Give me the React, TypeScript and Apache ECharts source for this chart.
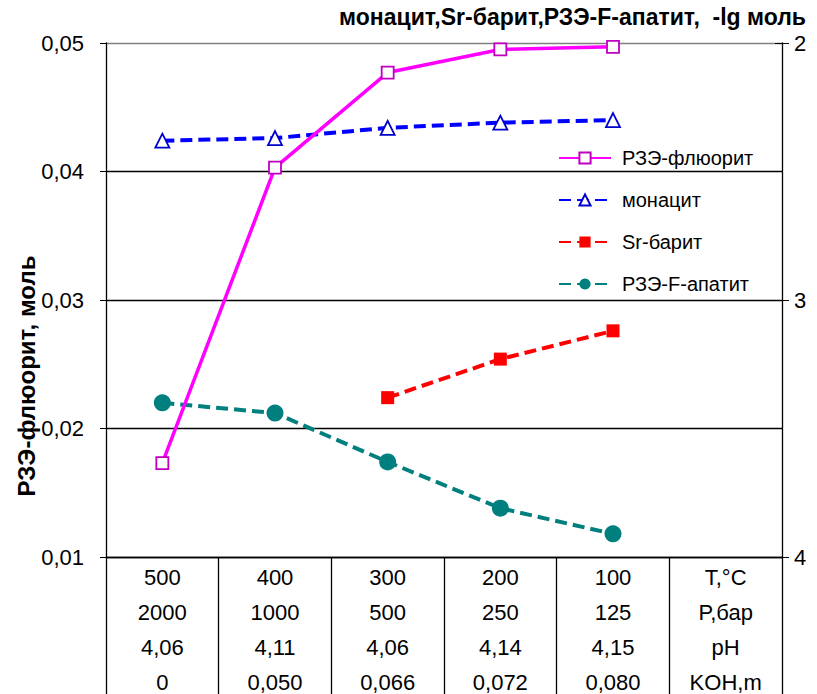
import React, { useEffect, useRef } from "react";
import * as echarts from "echarts";

// Conditions table under the plot (one column per step, last column holds row names)
const temperatures = ["500", "400", "300", "200", "100"];
const pressures = ["2000", "1000", "500", "250", "125"];
const phValues = ["4,06", "4,11", "4,06", "4,14", "4,15"];
const kohValues = ["0", "0,050", "0,066", "0,072", "0,080"];
const rowNames = ["T,°C", "P,бар", "pH", "KOH,m"];

// Left axis: REE-fluorite, mol
const fluorite = [0.0173, 0.0403, 0.0477, 0.0495, 0.0497];
// Right axis: -lg mol
const monazite = [2.38, 2.37, 2.33, 2.31, 2.3];
const srBarite = [null, null, 3.38, 3.23, 3.12];
const fApatite = [3.4, 3.44, 3.63, 3.81, 3.91];

const seriesNames = ["РЗЭ-флюорит", "монацит", "Sr-барит", "РЗЭ-F-апатит"];
const leftAxisName = "РЗЭ-флюорит, моль";
const rightAxisName = "монацит,Sr-барит,РЗЭ-F-апатит,  -lg моль";

const FONT = "'Liberation Sans', Arial, sans-serif";

const categories = [
  ...temperatures.map((t, i) => [t, pressures[i], phValues[i], kohValues[i]].join("\n")),
  rowNames.join("\n"),
];

export default function App() {
  const ref = useRef<HTMLDivElement>(null);

  useEffect(() => {
    if (!ref.current) return;
    const chart = echarts.init(ref.current, null, { renderer: "svg" });
    const dash = [12, 6];
    chart.setOption({
      animation: false,
      backgroundColor: "#ffffff",
      textStyle: { fontFamily: FONT },
      title: {
        text: rightAxisName,
        right: 11,
        top: 5,
        padding: 0,
        textStyle: { fontFamily: FONT, fontSize: 23, lineHeight: 24, fontWeight: "bold", color: "#000" },
      },
      // the conditions table hangs below the plot and is cut by the page edge
      grid: {
        left: 106,
        right: 35,
        top: 43,
        bottom: 137,
        containLabel: false,
        outerBoundsMode: "none",
      },
      legend: {
        orient: "vertical",
        left: 558,
        top: 148,
        padding: 0,
        itemWidth: 52,
        itemHeight: 14,
        itemGap: 22,
        data: seriesNames,
        textStyle: {
          fontFamily: FONT,
          fontSize: 20,
          lineHeight: 20,
          color: "#000",
          padding: [0, 0, 0, 6],
        },
      },
      graphic: [
        {
          type: "text",
          x: 26,
          y: 376,
          rotation: Math.PI / 2,
          style: {
            text: leftAxisName,
            font: `bold 24px ${FONT}`,
            fill: "#000",
            textAlign: "center",
            textVerticalAlign: "middle",
          },
        },
      ],
      xAxis: {
        type: "category",
        data: categories,
        boundaryGap: true,
        axisLine: { lineStyle: { color: "#000", width: 1.3 } },
        axisTick: {
          show: true,
          interval: 0,
          inside: false,
          length: 160,
          alignWithLabel: false,
          lineStyle: { color: "#000", width: 1.3 },
        },
        axisLabel: {
          interval: 0,
          margin: 3,
          fontFamily: FONT,
          fontSize: 22,
          lineHeight: 35,
          color: "#000",
          align: "center",
          verticalAlign: "top",
        },
        splitLine: { show: false },
      },
      yAxis: [
        {
          type: "value",
          position: "left",
          min: 0.01,
          max: 0.05,
          interval: 0.01,
          axisLine: { show: true, lineStyle: { color: "#000", width: 1.3 } },
          axisTick: { show: true, inside: false, length: 6, lineStyle: { color: "#000" } },
          axisLabel: {
            margin: 22,
            fontFamily: FONT,
            fontSize: 22,
            color: "#000",
            formatter: (v: number) => v.toFixed(2).replace(".", ","),
          },
          splitLine: {
            show: true,
            lineStyle: { color: ["#000", "#000", "#000", "#000", "#808080"], width: 1.3 },
          },
        },
        {
          type: "value",
          position: "right",
          min: 2,
          max: 4,
          interval: 1,
          inverse: true,
          axisLine: { show: true, lineStyle: { color: "#000", width: 1.3 } },
          axisTick: { show: true, inside: false, length: 7, lineStyle: { color: "#000" } },
          axisLabel: { margin: 12, fontFamily: FONT, fontSize: 22, color: "#000" },
          splitLine: { show: false },
        },
        {
          type: "value",
          position: "right",
          min: 2,
          max: 4,
          interval: 1,
          inverse: true,
          axisLine: { show: false },
          axisTick: { show: true, inside: true, length: 7, lineStyle: { color: "#000" } },
          axisLabel: { show: false },
          splitLine: { show: false },
        },
      ],
      series: [
        {
          name: seriesNames[3],
          type: "line",
          yAxisIndex: 1,
          data: fApatite,
          color: "#007f7f",
          symbol: "circle",
          symbolSize: 17,
          itemStyle: { color: "#007f7f" },
          lineStyle: { color: "#007f7f", width: 4, type: dash },
          z: 3,
        },
        {
          name: seriesNames[2],
          type: "line",
          yAxisIndex: 1,
          data: srBarite,
          color: "#ff0000",
          symbol: "rect",
          symbolSize: 13,
          itemStyle: { color: "#ff0000" },
          lineStyle: { color: "#ff0000", width: 4, type: dash },
          z: 3,
        },
        {
          name: seriesNames[1],
          type: "line",
          yAxisIndex: 1,
          data: monazite,
          color: "#0000ff",
          symbol: "triangle",
          symbolSize: 14,
          itemStyle: { color: "#ffffff", borderColor: "#0000cc", borderWidth: 1.8 },
          lineStyle: { color: "#0000ff", width: 4, type: dash },
          z: 3,
        },
        {
          name: seriesNames[0],
          type: "line",
          yAxisIndex: 0,
          data: fluorite,
          color: "#ff00ff",
          symbol: "rect",
          symbolSize: 12,
          itemStyle: { color: "#ffffff", borderColor: "#c000c0", borderWidth: 1.8 },
          lineStyle: { color: "#ff00ff", width: 3.5 },
          z: 4,
        },
      ],
    });
    return () => chart.dispose();
  }, []);

  return (
    <div
      ref={ref}
      style={{ position: "fixed", left: 0, top: 0, width: 817, height: 694, background: "#fff" }}
    />
  );
}
